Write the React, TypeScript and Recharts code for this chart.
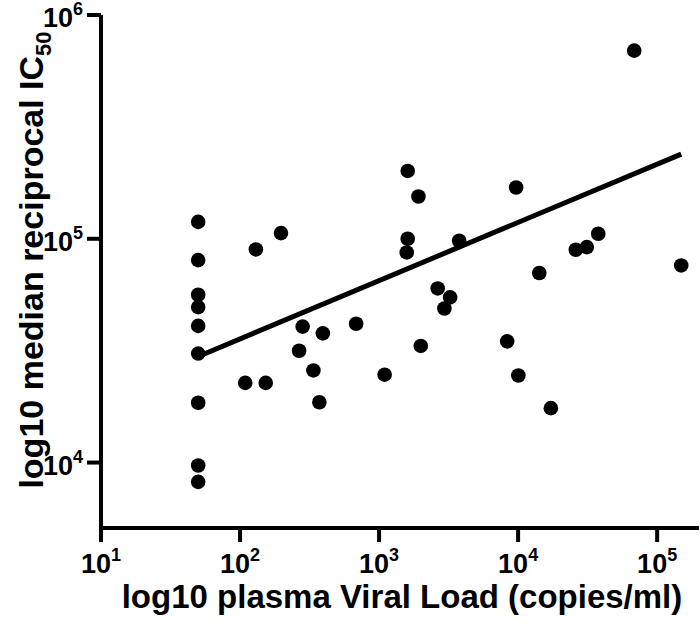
import React from "react";
import { ScatterChart, Scatter, XAxis, YAxis, Label } from "recharts";

const viralLoad = [50, 50, 50, 50, 50, 50, 50, 50, 50,
  109, 130, 153, 197, 266, 282, 337, 372, 394, 684,
  1096, 1581, 1607, 1607, 1919, 1995, 2640, 2950, 3243, 3767,
  8340, 9680, 10040, 14200, 17200, 26000, 31200, 37700, 68400, 149000];
const ic50 = [119000, 80300, 56200, 49500, 40800, 30700, 18500, 9700, 8200,
  22700, 89600, 22700, 106000, 31600, 40500, 25800, 18600, 37800, 41700,
  24700, 86900, 201000, 100000, 154500, 33200, 60000, 48800, 54700, 98000,
  34800, 169500, 24500, 70300, 17500, 89300, 91800, 105300, 693000, 76000];

const fitX = [50, 149000];
const fitY = [29800, 239000];

const xTicks = [10, 100, 1000, 10000, 100000];
const yTicks = [10000, 100000, 1000000];

const points = viralLoad.map((v, i) => ({ x: v, y: ic50[i] }));
const fitData = fitX.map((v, i) => ({ x: v, y: fitY[i] }));

const FONT = "'Liberation Sans', Arial, Helvetica, sans-serif";

const exp = (v: number) => Math.round(Math.log10(v));

const XTick = (props: any) => {
  const { x, y, payload } = props;
  return (
    <text x={x} y={y + 29} textAnchor="middle" fontFamily={FONT} fontWeight="bold" fontSize={27} fill="#000">
      10<tspan fontSize={18} dy={-12}>{exp(payload.value)}</tspan>
    </text>
  );
};

const YTick = (props: any) => {
  const { x, y, payload } = props;
  return (
    <text x={x - 2} y={y + 12} textAnchor="end" fontFamily={FONT} fontWeight="bold" fontSize={27} fill="#000">
      10<tspan fontSize={18} dy={-12}>{exp(payload.value)}</tspan>
    </text>
  );
};

const Dot = (props: any) => {
  const { cx, cy } = props;
  return <circle cx={cx} cy={cy} r={7.3} fill="#000" />;
};

const NoDot = () => <g />;

export default function App() {
  return (
    <div style={{ position: "absolute", left: 0, top: 0, background: "#fff" }}>
      <ScatterChart width={700} height={628} margin={{ top: 15, right: 1, bottom: 0, left: 0 }}>
        <XAxis
          type="number"
          dataKey="x"
          scale="log"
          domain={[10, 200000]}
          allowDataOverflow
          ticks={xTicks}
          interval={0}
          height={100}
          tick={<XTick />}
          tickSize={14}
          axisLine={{ stroke: "#000", strokeWidth: 4 }}
          tickLine={{ stroke: "#000", strokeWidth: 4 }}
        >
          <Label
            content={() => (
              <text x={402} y={608} textAnchor="middle" fontFamily={FONT} fontWeight="bold" fontSize={33} fill="#000">
                log10 plasma Viral Load (copies/ml)
              </text>
            )}
          />
        </XAxis>
        <YAxis
          type="number"
          dataKey="y"
          scale="log"
          domain={[5100, 1000000]}
          allowDataOverflow
          ticks={yTicks}
          interval={0}
          width={101}
          tick={<YTick />}
          tickSize={14}
          axisLine={{ stroke: "#000", strokeWidth: 4 }}
          tickLine={{ stroke: "#000", strokeWidth: 4 }}
        >
          <Label
            content={() => (
              <text
                x={43}
                y={260}
                transform="rotate(-90 43 260)"
                textAnchor="middle"
                fontFamily={FONT}
                fontWeight="bold"
                fontSize={34}
                fill="#000"
              >
                log10 median reciprocal IC<tspan fontSize={22} dy={8}>50</tspan>
              </text>
            )}
          />
        </YAxis>
        <Scatter data={points} fill="#000" shape={<Dot />} isAnimationActive={false} />
        <Scatter
          data={fitData}
          line={{ stroke: "#000", strokeWidth: 5 }}
          shape={<NoDot />}
          isAnimationActive={false}
        />
      </ScatterChart>
    </div>
  );
}
